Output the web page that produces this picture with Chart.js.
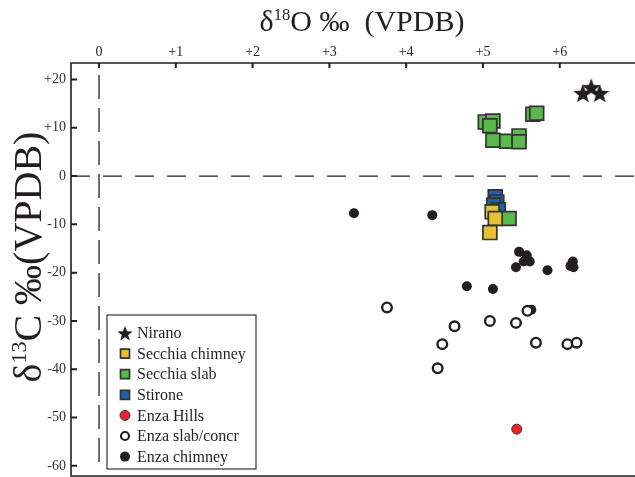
<!DOCTYPE html>
<html>
<head>
<meta charset="utf-8">
<script src="https://cdn.jsdelivr.net/npm/chart.js@4.4.0/dist/chart.umd.min.js"></script>
<style>
  html, body { margin: 0; padding: 0; background: #fff; }
  #wrap { width: 635px; height: 477px; }
</style>
</head>
<body>
<div id="wrap"><canvas id="c"></canvas></div>
<script>
// values: [d18O, d13C]
const nirano = [[6.30, 17.2], [6.41, 18.4], [6.52, 17.2]];
const secchiaChimney = [[5.12, -7.4], [5.16, -8.8], [5.09, -11.7]];
const secchiaSlab = [[5.03, 11.2], [5.13, 11.4], [5.09, 10.4], [5.13, 7.4], [5.31, 7.2],
  [5.47, 8.3], [5.47, 7.1], [5.65, 12.8], [5.70, 13.0], [5.34, -8.8]];
const stirone = [[5.16, -4.3], [5.18, -5.4], [5.14, -6.0], [5.20, -7.0]];
const enzaHills = [[5.44, -52.4]];
const enzaSlab = [[3.75, -27.2], [4.63, -31.1], [4.47, -34.8], [4.41, -39.8], [5.09, -30.0],
  [5.43, -30.4], [5.58, -27.9], [5.69, -34.5], [6.10, -34.8], [6.22, -34.5]];
const enzaChimney = [[3.32, -7.7], [4.34, -8.1], [5.47, -15.7], [5.57, -16.4], [5.61, -17.7],
  [5.53, -17.7], [5.43, -18.9], [5.84, -19.5], [6.17, -17.7], [6.14, -18.6], [6.18, -18.9],
  [4.79, -22.8], [5.13, -23.4], [5.63, -27.7]];

const xTicks = [0, 1, 2, 3, 4, 5, 6];
const xTickLabels = ["0", "+1", "+2", "+3", "+4", "+5", "+6"];
const yTicks = [20, 10, 0, -10, -20, -30, -40, -50, -60];
const yTickLabels = ["+20", "+10", "0", "-10", "-20", "-30", "-40", "-50", "-60"];

const INK = "#231f20";
const SERIF = "'Liberation Serif', 'Times New Roman', serif";

function starImage(size, color) {
  const c = document.createElement("canvas");
  c.width = size; c.height = size;
  const g = c.getContext("2d");
  const r = size / 2, ri = r * 0.42;
  g.beginPath();
  for (let i = 0; i < 10; i++) {
    const a = -Math.PI / 2 + i * Math.PI / 5;
    const rr = i % 2 ? ri : r;
    g.lineTo(r + rr * Math.cos(a), r + size * 0.06 + rr * Math.sin(a));
  }
  g.closePath();
  g.fillStyle = color;
  g.fill();
  return c;
}

const pts = arr => arr.map(p => ({ x: p[0], y: p[1] }));

const datasets = [
  { label: "Nirano", data: pts(nirano), pointStyle: starImage(20, INK), legendStyle: starImage(16, INK) },
  { label: "Secchia chimney", data: pts(secchiaChimney), pointStyle: "rect", pointRadius: 9.8,
    backgroundColor: "#e8c132", borderColor: "#333", borderWidth: 1.7 },
  { label: "Secchia slab", data: pts(secchiaSlab), pointStyle: "rect", pointRadius: 9.8,
    backgroundColor: "#5ab94b", borderColor: "#333", borderWidth: 1.7 },
  { label: "Stirone", data: pts(stirone), pointStyle: "rect", pointRadius: 9.8,
    backgroundColor: "#1f5fae", borderColor: "#333", borderWidth: 1.7 },
  { label: "Enza Hills", data: pts(enzaHills), pointStyle: "circle", pointRadius: 5,
    backgroundColor: "#ec2327", borderColor: "#3a3a3a", borderWidth: 1 },
  { label: "Enza slab/concr", data: pts(enzaSlab), pointStyle: "circle", pointRadius: 4.8,
    backgroundColor: "#fff", borderColor: INK, borderWidth: 2.4 },
  { label: "Enza chimney", data: pts(enzaChimney), pointStyle: "circle", pointRadius: 5,
    backgroundColor: INK, borderColor: INK, borderWidth: 0 }
];
datasets.forEach(d => { d.pointHoverRadius = d.pointRadius; });

// axes frame, inward ticks and the dashed zero lines
const framePlugin = {
  id: "frame",
  beforeDatasetsDraw(chart) {
    const { ctx, chartArea: a, scales: { x, y } } = chart;
    ctx.save();
    ctx.strokeStyle = INK;

    ctx.lineWidth = 1.3;
    ctx.setLineDash([24, 9]);
    const x0 = x.getPixelForValue(0);
    ctx.beginPath();
    ctx.moveTo(x0, a.top + 12);
    ctx.lineTo(x0, a.bottom - 12);
    ctx.stroke();
    ctx.setLineDash([19, 13]);
    const y0 = y.getPixelForValue(0);
    ctx.beginPath();
    ctx.moveTo(a.left, y0);
    ctx.lineTo(a.right, y0);
    ctx.stroke();
    ctx.setLineDash([]);

    ctx.lineWidth = 1.6;
    ctx.beginPath();
    ctx.moveTo(a.right, a.top);
    ctx.lineTo(a.left, a.top);
    ctx.lineTo(a.left, a.bottom);
    ctx.lineTo(a.right, a.bottom);
    ctx.stroke();

    ctx.lineWidth = 2;
    ctx.beginPath();
    xTicks.forEach(v => {
      const px = x.getPixelForValue(v);
      ctx.moveTo(px, a.top);
      ctx.lineTo(px, a.top + 5);
    });
    yTicks.forEach(v => {
      const py = y.getPixelForValue(v);
      ctx.moveTo(a.left, py);
      ctx.lineTo(a.left + 6, py);
    });
    ctx.stroke();
    ctx.restore();
  }
};

function drawRich(ctx, parts, size) {
  let w = 0;
  parts.forEach(p => {
    ctx.font = (p.sup ? size * 0.55 : size) + "px " + SERIF;
    w += ctx.measureText(p.t).width;
  });
  let cx = -w / 2;
  parts.forEach(p => {
    ctx.font = (p.sup ? size * 0.55 : size) + "px " + SERIF;
    ctx.fillText(p.t, cx, p.sup ? -size * 0.38 : 0);
    cx += ctx.measureText(p.t).width;
  });
}

const titlePlugin = {
  id: "axisTitles",
  afterDraw(chart) {
    const { ctx } = chart;
    ctx.save();
    ctx.fillStyle = INK;
    ctx.textBaseline = "alphabetic";
    ctx.textAlign = "left";
    ctx.translate(362, 31);
    drawRich(ctx, [{ t: "\u03b4" }, { t: "18", sup: true }, { t: "O \u2030  (VPDB)" }], 30);
    ctx.restore();

    ctx.save();
    ctx.fillStyle = INK;
    ctx.textAlign = "left";
    ctx.translate(41, 257);
    ctx.rotate(-Math.PI / 2);
    drawRich(ctx, [{ t: "\u03b4" }, { t: "13", sup: true }, { t: "C \u2030(VPDB)" }], 40);
    ctx.restore();
  }
};

function drawMarker(ctx, ds, x, y, r) {
  ctx.save();
  if (typeof ds.legendStyle === "object") {
    const img = ds.legendStyle;
    ctx.drawImage(img, x - img.width / 2, y - img.height / 2);
  } else {
    ctx.fillStyle = ds.backgroundColor;
    ctx.strokeStyle = ds.borderColor;
    ctx.lineWidth = Math.min(ds.borderWidth, 2.2);
    ctx.beginPath();
    if (ds.pointStyle === "rect") ctx.rect(x - r, y - r, 2 * r, 2 * r);
    else ctx.arc(x, y, r, 0, Math.PI * 2);
    ctx.fill();
    if (ds.borderWidth > 0) ctx.stroke();
  }
  ctx.restore();
}

const legendPlugin = {
  id: "boxLegend",
  afterDatasetsDraw(chart) {
    const { ctx, chartArea: a } = chart;
    const left = a.left + 36, top = 315, w = 149, h = 154;
    ctx.save();
    ctx.fillStyle = "#fff";
    ctx.fillRect(left, top, w, h);
    ctx.strokeStyle = "#333";
    ctx.lineWidth = 1.2;
    ctx.strokeRect(left, top, w, h);
    ctx.fillStyle = INK;
    ctx.font = "16px " + SERIF;
    ctx.textBaseline = "middle";
    chart.data.datasets.forEach((ds, i) => {
      const cy = top + 18 + i * 20.6;
      const r = ds.pointStyle === "rect" ? 4.5 : (ds.label === "Enza slab/concr" ? 4 : 5);
      drawMarker(ctx, ds, left + 18, cy, r);
      ctx.fillStyle = INK;
      ctx.fillText(ds.label, left + 30, cy + 1);
    });
    ctx.restore();
  }
};

new Chart(document.getElementById("c"), {
  type: "scatter",
  data: { datasets },
  options: {
    responsive: true,
    maintainAspectRatio: false,
    animation: false,
    layout: { autoPadding: false, padding: { left: 0, right: 0, top: 0, bottom: 1 } },
    plugins: { legend: { display: false }, tooltip: { enabled: false } },
    scales: {
      x: {
        type: "linear",
        position: "top",
        min: -0.365,
        max: 6.98,
        afterBuildTicks: s => { s.ticks = xTicks.map(v => ({ value: v })); },
        afterFit: s => { s.height = 63; s.paddingLeft = 0; s.paddingRight = 0; },
        grid: { display: false, drawTicks: false },
        border: { display: false },
        ticks: {
          callback: (v, i) => xTickLabels[i],
          font: { family: SERIF, size: 14 },
          color: INK,
          padding: 2,
          maxRotation: 0,
          autoSkip: false
        }
      },
      y: {
        type: "linear",
        min: -62.1,
        max: 23.4,
        afterBuildTicks: s => { s.ticks = yTicks.map(v => ({ value: v })); },
        afterFit: s => { s.width = 71; s.paddingTop = 0; s.paddingBottom = 0; },
        grid: { display: false, drawTicks: false },
        border: { display: false },
        ticks: {
          callback: (v, i) => yTickLabels[i],
          font: { family: SERIF, size: 14 },
          color: "#333",
          padding: 5,
          autoSkip: false
        }
      }
    }
  },
  plugins: [framePlugin, legendPlugin, titlePlugin]
});
</script>
</body>
</html>
